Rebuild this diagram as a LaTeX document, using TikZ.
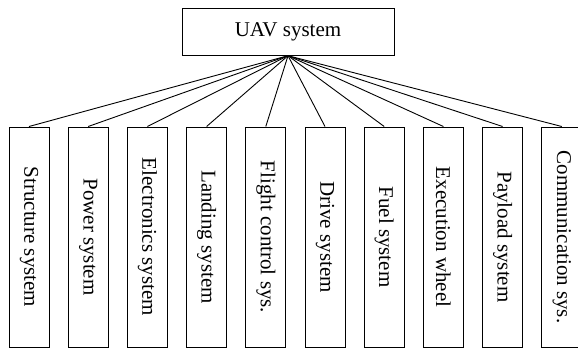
\documentclass[tikz,border=0pt]{standalone}
\usepackage{fontspec}
\setmainfont{Liberation Serif}
\begin{document}
\begin{tikzpicture}[x=1pt,y=-1pt,
  topbox/.style={draw,line width=1pt,minimum width=212pt,minimum height=47pt,inner sep=0pt,font=\fontsize{21}{24}\selectfont},
  subbox/.style={draw,line width=1pt,minimum width=40pt,minimum height=220pt,inner sep=0pt},
  sublabel/.style={rotate=-90,font=\fontsize{21}{24}\selectfont,inner sep=0pt},
  link/.style={line width=0.9pt}]
\useasboundingbox (0,0) rectangle (578,349);
\clip (0,0) rectangle (578,349);
\node[topbox] (top) at (288,31.7) {UAV system};
\foreach \i/\t in {0/Structure system,1/Power system,2/Electronics system,3/Landing system,4/Flight control sys.,5/Drive system,6/Fuel system,7/Execution wheel,8/Payload system,9/Communication sys.}{
  \node[subbox] (b\i) at ({29+59.2*\i},237) {};
  \node[sublabel] (t\i) at (b\i.center) {\t};
  \draw[link] (top.south) -- (b\i.north);
}
\end{tikzpicture}
\end{document}
